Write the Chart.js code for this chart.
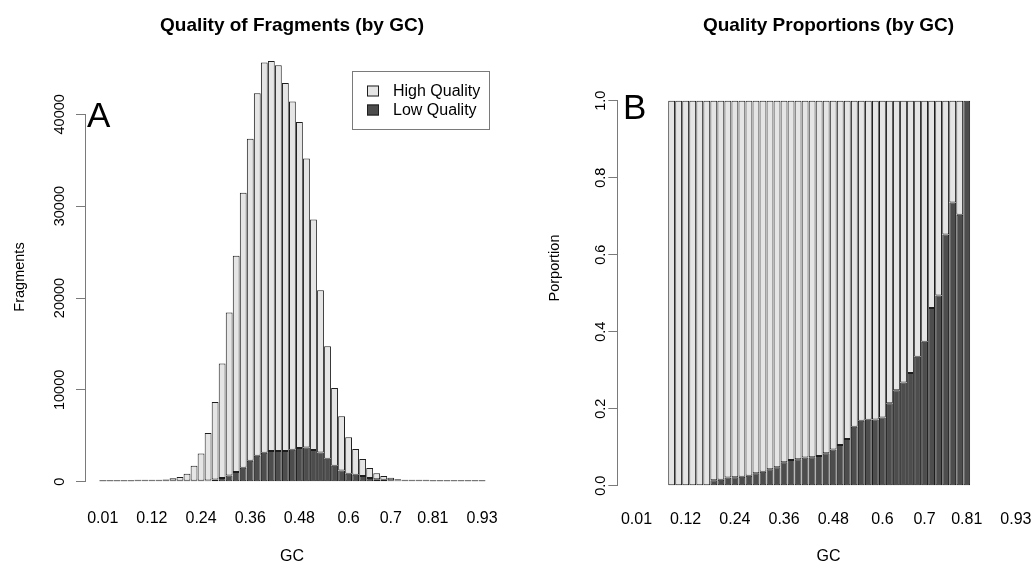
<!DOCTYPE html>
<html>
<head>
<meta charset="utf-8">
<title>Quality of fragments by GC</title>
<script src="https://cdn.jsdelivr.net/npm/chart.js@4.4.1/dist/chart.umd.min.js"></script>
<style>
  html, body { margin: 0; padding: 0; background: #fff; overflow: hidden; }
  #wrap { position: relative; width: 1032px; height: 562px; }
  #wrap canvas { position: absolute; top: 0; }
  #fragments { left: 0; }
  #proportions { left: 516px; }
</style>
</head>
<body>
<div id="wrap">
  <canvas id="fragments" width="516" height="562"></canvas>
  <canvas id="proportions" width="516" height="562"></canvas>
</div>
<script>
// GC bins run 0..54; only every 6th/7th bin gets a printed label, the rest
// stay unlabelled like the original barplot axis.
var GC_TICK_BINS = [0, 7, 14, 21, 28, 35, 41, 47, 54];
var GC_TICK_LABELS = ["0.01", "0.12", "0.24", "0.36", "0.48", "0.6", "0.7", "0.81", "0.93"];

// fragment counts per GC bin (55 bins)
var LOW_QUALITY = [
  0, 0, 0, 0, 0,   0, 0, 0, 0, 0,
  0, 6, 12, 35, 66,   122, 226, 412, 663, 1058,
  1511, 2278, 2833, 3148, 3344,   3355, 3343, 3476, 3681, 3731,
  3456, 3190, 2493, 1746, 1225,   855, 762, 613, 397, 272,
  211, 157, 120, 84, 62,   39, 19, 6, 0, 0,
  0, 0, 0, 0, 0
];
var HIGH_QUALITY = [
  0, 0, 0, 0, 0,   2, 5, 12, 40, 130,
  260, 414, 768, 1615, 2954,   5178, 8464, 12448, 17757, 23542,
  29959, 35072, 39457, 42482, 42466,   41985, 40067, 37904, 35479, 31469,
  25104, 17660, 12257, 8464, 5895,   3975, 2798, 1857, 1083, 658,
  419, 263, 140, 86, 33,   14, 8, 0, 0, 0,
  0, 0, 0, 0, 0
];

var FRAGMENT_TICKS = [0, 10000, 20000, 30000, 40000];
var PROPORTION_TICKS = [0, 0.2, 0.4, 0.6, 0.8, 1.0];

(function () {
  "use strict";

  var FONT = '"Liberation Sans", Arial, Helvetica, sans-serif';
  var LIGHT = "#e5e5e5";
  var DARK = "#4d4d4d";
  var EDGE = "#1e1e1e";
  var AXIS = "#7a7a7a";

  // toPoints turns a per-bin series into {x: bin, y: value} so the bars sit
  // on a linear x scale (that lets the plot leave a gap after the y axis).
  function toPoints(series) {
    return series.map(function (v, i) { return { x: i, y: v }; });
  }

  // share of each bin that is low/high quality; empty bins give null so
  // nothing is drawn for them.
  function shares(part) {
    return part.map(function (v, i) {
      var total = LOW_QUALITY[i] + HIGH_QUALITY[i];
      return total > 0 ? v / total : null;
    });
  }

  // panelText draws the R-style decorations: main title, axis titles, the
  // big panel letter and (left panel only) the boxed legend.
  var panelText = {
    id: "panelText",
    afterDraw: function (chart, args, o) {
      var ctx = chart.ctx;
      ctx.save();
      ctx.fillStyle = "#000";
      ctx.textBaseline = "alphabetic";

      ctx.textAlign = "center";
      ctx.font = "bold 19px " + FONT;
      ctx.fillText(o.title, o.centerX, 31);

      ctx.font = "16px " + FONT;
      ctx.fillText(o.xTitle, o.centerX, 561);

      ctx.save();
      ctx.translate(o.yTitleX, o.yTitleY);
      ctx.rotate(-Math.PI / 2);
      ctx.font = "14.5px " + FONT;
      ctx.textBaseline = "middle";
      ctx.fillText(o.yTitle, 0, 0);
      ctx.restore();

      ctx.textAlign = "left";
      ctx.font = "35px " + FONT;
      ctx.fillText(o.letter, o.letterX, o.letterY);

      if (o.legend) drawLegend(ctx, chart, o.legend);
      ctx.restore();
    },
  };

  function drawLegend(ctx, chart, box) {
    ctx.strokeStyle = AXIS;
    ctx.lineWidth = 1;
    ctx.strokeRect(box.x + 0.5, box.y + 0.5, box.w, box.h);
    // R lists the top stack segment first
    var sets = chart.data.datasets.slice().reverse();
    ctx.font = "16px " + FONT;
    ctx.textBaseline = "middle";
    ctx.textAlign = "left";
    sets.forEach(function (ds, i) {
      var cy = box.y + 20 + i * 19;
      ctx.fillStyle = ds.backgroundColor;
      ctx.fillRect(box.x + 15, cy - 5.5, 12, 11);
      ctx.strokeStyle = EDGE;
      ctx.strokeRect(box.x + 15.5, cy - 5, 11, 10);
      ctx.fillStyle = "#000";
      ctx.fillText(ds.label, box.x + 41, cy + 1);
    });
  }

  function barDataset(label, data, color, minLen) {
    return {
      label: label,
      data: data,
      backgroundColor: color,
      borderColor: EDGE,
      borderWidth: 1,
      borderSkipped: false,
      categoryPercentage: 1,
      barPercentage: 0.97,
      minBarLength: minLen,
      clip: false,
    };
  }

  // linear index axis without the bar chart's default half-step offset, so
  // min/max map straight onto the plot edges. The label drop is done with an
  // invisible tick length: ticks.padding would also pad the plot sideways.
  function xScale(min, max, height, drop) {
    return {
      type: "linear",
      stacked: true,
      offset: false,
      min: min,
      max: max,
      grid: { display: false, drawTicks: true, tickLength: drop, offset: false },
      border: { display: false },
      afterBuildTicks: function (scale) {
        scale.ticks = GC_TICK_BINS.map(function (v) { return { value: v }; });
      },
      afterFit: function (scale) { scale.height = height; },
      ticks: {
        autoSkip: false,
        maxRotation: 0,
        padding: 0,
        color: "#000",
        font: { family: FONT, size: 16 },
        callback: function (value) {
          var i = GC_TICK_BINS.indexOf(value);
          return i < 0 ? "" : GC_TICK_LABELS[i];
        },
      },
    };
  }

  function yScale(ticks, width, pad, fmt) {
    return {
      stacked: true,
      min: ticks[0],
      max: ticks[ticks.length - 1],
      afterBuildTicks: function (scale) {
        scale.ticks = ticks.map(function (v) { return { value: v }; });
      },
      afterFit: function (scale) { scale.width = width; },
      grid: { drawOnChartArea: false, drawTicks: true, tickLength: 9, color: AXIS },
      border: { display: true, color: AXIS, width: 1 },
      ticks: {
        autoSkip: false,
        minRotation: 90,
        maxRotation: 90,
        crossAlign: "center",
        padding: pad,
        color: "#000",
        font: { family: FONT, size: 14.5 },
        callback: fmt,
      },
    };
  }

  new Chart(document.getElementById("fragments"), {
    type: "bar",
    data: {
      datasets: [
        barDataset("Low Quality", toPoints(LOW_QUALITY), DARK, 1),
        barDataset("High Quality", toPoints(HIGH_QUALITY), LIGHT, 1),
      ],
    },
    options: {
      responsive: false,
      animation: false,
      devicePixelRatio: 1,
      layout: { padding: { left: 0, top: 114.3, right: 15, bottom: 0 } },
      scales: {
        x: xScale(-2.52, 56.69, 80.3, 27.5),
        y: yScale(FRAGMENT_TICKS, 85, -4.2, function (v) { return String(v); }),
      },
      plugins: {
        legend: { display: false },
        tooltip: { enabled: false },
        panelText: {
          title: "Quality of Fragments (by GC)",
          xTitle: "GC",
          yTitle: "Fragments",
          centerX: 292,
          yTitleX: 20,
          yTitleY: 277,
          letter: "A",
          letterX: 87,
          letterY: 126.5,
          legend: { x: 352, y: 71, w: 137, h: 58 },
        },
      },
    },
    plugins: [panelText],
  });

  new Chart(document.getElementById("proportions"), {
    type: "bar",
    data: {
      datasets: [
        barDataset("Low Quality", toPoints(shares(LOW_QUALITY)), DARK, 0),
        barDataset("High Quality", toPoints(shares(HIGH_QUALITY)), LIGHT, 0),
      ],
    },
    options: {
      responsive: false,
      animation: false,
      devicePixelRatio: 1,
      layout: { padding: { left: 0, top: 100.7, right: 0, bottom: 0 } },
      scales: {
        x: xScale(-2.733, 56.29, 76.3, 23.8),
        y: yScale(PROPORTION_TICKS, 101.3, -2.8, function (v) { return v.toFixed(1); }),
      },
      plugins: {
        legend: { display: false },
        tooltip: { enabled: false },
        panelText: {
          title: "Quality Proportions (by GC)",
          xTitle: "GC",
          yTitle: "Porportion",
          centerX: 312.5,
          yTitleX: 39,
          yTitleY: 268,
          letter: "B",
          letterX: 107,
          letterY: 119.3,
        },
      },
    },
    plugins: [panelText],
  });
})();
</script>
</body>
</html>
